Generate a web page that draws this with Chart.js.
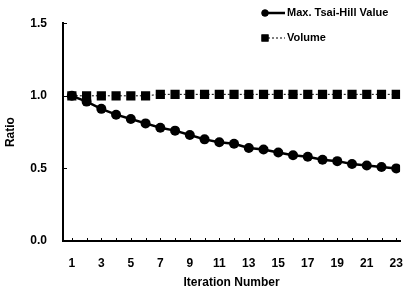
<!doctype html>
<html lang="en">
<head>
  <meta charset="utf-8">
  <title>Ratio vs Iteration Number</title>
  <style>
    * { margin: 0; padding: 0; }
    body { background: white; }
    .chartBox { width: 418px; height: 294px; position: relative; }
  </style>
</head>
<body>
<div class="chartBox">
  <canvas id="myChart"></canvas>
</div>

<script src="https://cdn.jsdelivr.net/npm/chart.js"></script>
<script>
  // data
  const iterations = [1, 2, 3, 4, 5, 6, 7, 8, 9, 10, 11, 12, 13, 14, 15, 16, 17, 18, 19, 20, 21, 22, 23];
  const tsaiHill = [1.0, 0.96, 0.91, 0.87, 0.84, 0.81, 0.78, 0.76, 0.73, 0.70, 0.68, 0.67, 0.64, 0.63, 0.61, 0.59, 0.58, 0.56, 0.55, 0.53, 0.52, 0.51, 0.50];
  const volume = [1.0, 1.0, 1.0, 1.0, 1.0, 1.0, 1.01, 1.01, 1.01, 1.01, 1.01, 1.01, 1.01, 1.01, 1.01, 1.01, 1.01, 1.01, 1.01, 1.01, 1.01, 1.01, 1.01];
  const yTicks = [0, 0.5, 1.0, 1.5];
  const seriesNames = ['Max. Tsai-Hill Value', 'Volume'];

  const font = 'Liberation Sans, Arial, sans-serif';

  // small inward tick marks on both axes
  const innerTicks = {
    id: 'innerTicks',
    afterDraw(chart) {
      const ctx = chart.ctx;
      const x = chart.scales.x, y = chart.scales.y;
      ctx.save();
      ctx.strokeStyle = 'black';
      ctx.lineWidth = 1;
      ctx.beginPath();
      iterations.forEach(v => {
        const px = Math.round(x.getPixelForValue(v)) + 0.5;
        ctx.moveTo(px, y.bottom);
        ctx.lineTo(px, y.bottom - 3);
      });
      yTicks.slice(1).forEach(v => {
        const py = Math.round(y.getPixelForValue(v)) + 0.5;
        ctx.moveTo(x.left, py);
        ctx.lineTo(x.left + 4, py);
      });
      ctx.stroke();
      ctx.restore();
    }
  };

  // legend in the top right corner: line + marker + name
  const cornerLegend = {
    id: 'cornerLegend',
    afterDraw(chart) {
      const ctx = chart.ctx;
      const rows = [13, 38];
      ctx.save();
      chart.data.datasets.forEach((ds, i) => {
        const yy = rows[i];
        ctx.strokeStyle = 'black';
        ctx.lineWidth = ds.borderWidth;
        ctx.setLineDash(ds.borderDash || []);
        ctx.beginPath();
        ctx.moveTo(264, yy);
        ctx.lineTo(285, yy);
        ctx.stroke();
        ctx.setLineDash([]);
        ctx.fillStyle = 'black';
        Chart.helpers.drawPoint(ctx, {pointStyle: ds.pointStyle, radius: ds.pointRadius - 1.5, borderWidth: 0}, 265, yy);
        ctx.fill();
        ctx.font = 'bold 11px ' + font;
        ctx.textBaseline = 'middle';
        ctx.textAlign = 'left';
        ctx.fillText(seriesNames[i], 287, yy);
      });
      ctx.restore();
    }
  };

  const data = {
    datasets: [{
      label: seriesNames[0],
      data: iterations.map((it, i) => ({x: it, y: tsaiHill[i]})),
      borderColor: 'black',
      backgroundColor: 'black',
      borderWidth: 2.5,
      pointStyle: 'circle',
      pointRadius: 5,
      pointBorderWidth: 0
    }, {
      label: seriesNames[1],
      data: iterations.map((it, i) => ({x: it, y: volume[i]})),
      borderColor: 'black',
      backgroundColor: 'black',
      borderWidth: 1,
      borderDash: [2, 2],
      pointStyle: 'rect',
      pointRadius: 6.5,
      pointBorderWidth: 0
    }]
  };

  const config = {
    type: 'line',
    data,
    options: {
      responsive: true,
      maintainAspectRatio: false,
      animation: false,
      layout: { padding: { top: 18, right: 4, left: 0, bottom: 0 } },
      scales: {
        x: {
          type: 'linear',
          min: 0.4,
          max: 23.26,
          afterBuildTicks: (scale) => { scale.ticks = iterations.map(v => ({value: v})); },
          afterFit: (scale) => { scale.height = 53; },
          grid: { display: false, drawTicks: false },
          border: { display: true, color: 'black', width: 2 },
          ticks: {
            autoSkip: false,
            maxRotation: 0,
            padding: 15,
            color: 'black',
            font: { family: font, size: 12, weight: 'bold' },
            callback: (v) => (v % 2 === 1 ? String(v) : '')
          },
          title: {
            display: true,
            text: 'Iteration Number',
            color: 'black',
            font: { family: font, size: 12, weight: 'bold' },
            padding: { top: 0, bottom: 4 }
          }
        },
        y: {
          min: 0,
          max: 1.5,
          afterBuildTicks: (scale) => { scale.ticks = yTicks.map(v => ({value: v})); },
          afterFit: (scale) => { scale.width = 63; },
          grid: { display: false, drawTicks: false },
          border: { display: true, color: 'black', width: 2 },
          ticks: {
            padding: 16,
            color: 'black',
            font: { family: font, size: 12, weight: 'bold' },
            callback: (v) => v.toFixed(1)
          },
          title: {
            display: true,
            text: 'Ratio',
            color: 'black',
            font: { family: font, size: 12, weight: 'bold' },
            padding: { top: 3, bottom: 0 }
          }
        }
      },
      plugins: {
        legend: { display: false },
        tooltip: { enabled: false }
      }
    },
    plugins: [innerTicks, cornerLegend]
  };

  const myChart = new Chart(document.getElementById('myChart'), config);
</script>
</body>
</html>
